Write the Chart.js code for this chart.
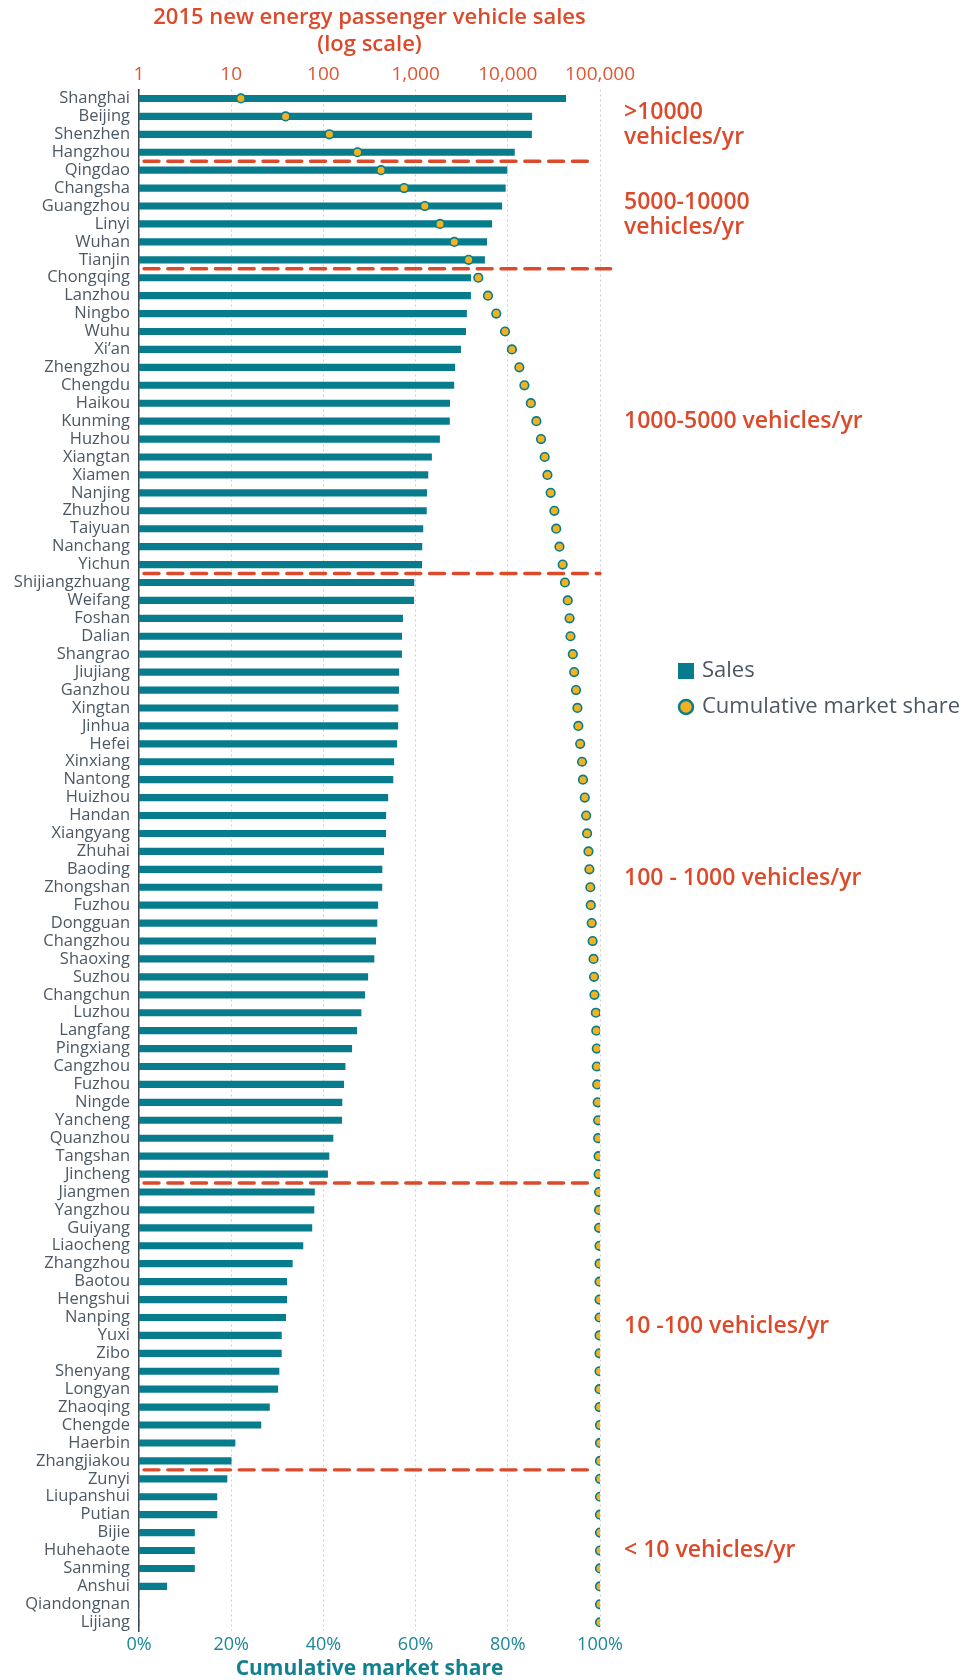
<!DOCTYPE html>
<html>
<head>
<meta charset="utf-8">
<title>2015 new energy passenger vehicle sales by city</title>
<script src="https://cdn.jsdelivr.net/npm/chart.js@4/dist/chart.umd.min.js"></script>
<style>
  html, body { margin: 0; padding: 0; background: #fff; }
  #wrap { position: relative; width: 970px; height: 1680px; }
</style>
</head>
<body>
<div id="wrap"><canvas id="salesChart"></canvas></div>
<script>
const cities = [
  'Shanghai', 'Beijing', 'Shenzhen', 'Hangzhou', 'Qingdao', 'Changsha', 'Guangzhou', 'Linyi', 'Wuhan', 'Tianjin',
  'Chongqing', 'Lanzhou', 'Ningbo', 'Wuhu', 'Xi\u2019an', 'Zhengzhou', 'Chengdu', 'Haikou', 'Kunming', 'Huzhou',
  'Xiangtan', 'Xiamen', 'Nanjing', 'Zhuzhou', 'Taiyuan', 'Nanchang', 'Yichun', 'Shijiangzhuang', 'Weifang', 'Foshan',
  'Dalian', 'Shangrao', 'Jiujiang', 'Ganzhou', 'Xingtan', 'Jinhua', 'Hefei', 'Xinxiang', 'Nantong', 'Huizhou',
  'Handan', 'Xiangyang', 'Zhuhai', 'Baoding', 'Zhongshan', 'Fuzhou', 'Dongguan', 'Changzhou', 'Shaoxing', 'Suzhou',
  'Changchun', 'Luzhou', 'Langfang', 'Pingxiang', 'Cangzhou', 'Fuzhou', 'Ningde', 'Yancheng', 'Quanzhou', 'Tangshan',
  'Jincheng', 'Jiangmen', 'Yangzhou', 'Guiyang', 'Liaocheng', 'Zhangzhou', 'Baotou', 'Hengshui', 'Nanping', 'Yuxi',
  'Zibo', 'Shenyang', 'Longyan', 'Zhaoqing', 'Chengde', 'Haerbin', 'Zhangjiakou', 'Zunyi', 'Liupanshui', 'Putian',
  'Bijie', 'Huhehaote', 'Sanming', 'Anshui', 'Qiandongnan', 'Lijiang'
];

// vehicles sold in 2015
const sales = [
  42500, 18200, 18100, 11800, 9800, 9400, 8600, 6700, 5900, 5600,
  3960, 3950, 3570, 3490, 3080, 2660, 2600, 2340, 2330, 1820,
  1490, 1360, 1320, 1310, 1200, 1170, 1165, 960, 955, 723,
  707, 705, 658, 655, 644, 642, 624, 580, 568, 500,
  475, 474, 451, 432, 431, 389, 381, 369, 354, 303,
  281, 256, 230, 203, 172, 166, 159, 158, 127, 115,
  111, 80, 79, 75, 60, 46, 40, 40, 39, 35,
  35, 33, 32, 26, 21, 11, 10, 9, 7, 7,
  4, 4, 4, 2, 1, 1
];

// cumulative market share, %
const cumulativeShare = [
  22.1, 31.8, 41.3, 47.4, 52.5, 57.5, 62.0, 65.3, 68.4, 71.5,
  73.6, 75.7, 77.5, 79.4, 80.9, 82.5, 83.6, 85.0, 86.2, 87.2,
  88.0, 88.6, 89.3, 90.1, 90.5, 91.2, 91.9, 92.4, 93.0, 93.4,
  93.6, 94.1, 94.4, 94.8, 95.1, 95.3, 95.7, 96.1, 96.3, 96.7,
  97.0, 97.2, 97.5, 97.7, 97.9, 98.0, 98.2, 98.4, 98.6, 98.7,
  98.8, 99.1, 99.2, 99.3, 99.3, 99.4, 99.5, 99.6, 99.6, 99.7,
  99.7, 99.8, 99.8, 99.8, 99.9, 99.9, 99.9, 99.9, 99.9, 99.9,
  99.9, 99.9, 99.9, 99.9, 100, 100, 100, 100, 100, 100,
  100, 100, 100, 100, 100, 100
];

const salesTicks = [1, 10, 100, 1000, 10000, 100000];
const shareTicks = [0, 20, 40, 60, 80, 100];

// sales bands: last city in each band and its label
const groupLastCity = ['Hangzhou', 'Tianjin', 'Yichun', 'Jincheng', 'Zhangjiakou', 'Lijiang'];
const groupLabels = [
  ['>10000', 'vehicles/yr'],
  ['5000-10000', 'vehicles/yr'],
  ['1000-5000 vehicles/yr'],
  ['100 - 1000 vehicles/yr'],
  ['10 -100 vehicles/yr'],
  ['< 10 vehicles/yr']
];

const TEAL = '#067c8c';
const GOLD = '#f2b11f';
const RED = '#db4a2b';
const TEXT = '#4c5863';
const FONT = '"Open Sans", Lato, sans-serif';

// dashed band separators, band labels and the legend
const bandsPlugin = {
  id: 'bands',
  afterDatasetsDraw(chart) {
    const {ctx, chartArea, scales} = chart;
    const y = scales.y;
    const share = scales.xShare;
    const lastIdx = groupLastCity.map(c => cities.indexOf(c));
    const lineEnds = [98.4, 102.3, 100, 98.4, 98.4];

    ctx.save();
    ctx.strokeStyle = RED;
    ctx.lineWidth = 3.4;
    ctx.lineCap = 'round';
    ctx.setLineDash([15, 8.8]);
    lastIdx.slice(0, -1).forEach((idx, i) => {
      const yy = (y.getPixelForValue(idx) + y.getPixelForValue(idx + 1)) / 2;
      ctx.beginPath();
      ctx.moveTo(chartArea.left + 5, yy);
      ctx.lineTo(share.getPixelForValue(lineEnds[i]), yy);
      ctx.stroke();
    });
    ctx.restore();

    ctx.save();
    ctx.fillStyle = RED;
    ctx.font = '600 23px ' + FONT;
    ctx.textAlign = 'left';
    ctx.textBaseline = 'middle';
    let first = 0;
    lastIdx.forEach((idx, i) => {
      const mid = (y.getPixelForValue(first) + y.getPixelForValue(idx)) / 2;
      const lines = groupLabels[i];
      const lh = 25;
      lines.forEach((t, k) => {
        ctx.fillText(t, chartArea.right + 24, mid - (lines.length - 1) * lh / 2 + k * lh);
      });
      first = idx + 1;
    });
    ctx.restore();

    // legend
    ctx.save();
    const lx = 686;
    ctx.fillStyle = TEAL;
    ctx.fillRect(lx - 8, 663, 16, 16);
    ctx.beginPath();
    ctx.arc(lx, 707, 7, 0, Math.PI * 2);
    ctx.fillStyle = GOLD;
    ctx.fill();
    ctx.lineWidth = 2.5;
    ctx.strokeStyle = TEAL;
    ctx.stroke();
    ctx.fillStyle = TEXT;
    ctx.font = '22px ' + FONT;
    ctx.textBaseline = 'middle';
    ctx.fillText(chart.data.datasets[0].label, 702, 671);
    ctx.fillText(chart.data.datasets[1].label, 702, 707);
    ctx.restore();
  }
};

const ctx = document.getElementById('salesChart').getContext('2d');
new Chart(ctx, {
  type: 'bar',
  data: {
    labels: cities,
    datasets: [{
      type: 'bar',
      label: 'Sales',
      data: sales,
      indexAxis: 'y',
      xAxisID: 'xSales',
      yAxisID: 'y',
      backgroundColor: TEAL,
      barThickness: 6.5,
      order: 2
    }, {
      type: 'line',
      label: 'Cumulative market share',
      data: cumulativeShare,
      indexAxis: 'y',
      xAxisID: 'xShare',
      yAxisID: 'y',
      showLine: false,
      pointRadius: 4.3,
      pointBackgroundColor: GOLD,
      pointBorderColor: TEAL,
      pointBorderWidth: 1.6,
      order: 1
    }]
  },
  options: {
    indexAxis: 'y',
    responsive: true,
    maintainAspectRatio: false,
    animation: false,
    layout: { padding: { left: 0, right: 370, top: 0, bottom: 0 } },
    plugins: {
      legend: { display: false },
      tooltip: { enabled: false }
    },
    scales: {
      y: {
        type: 'category',
        grid: { display: false, drawTicks: false },
        border: { display: true, color: '#3a4650', width: 1.5 },
        ticks: { autoSkip: false, color: TEXT, padding: 9, font: { family: FONT, size: 16.5 } },
        afterFit(scale) { scale.width = 139; }
      },
      xSales: {
        type: 'logarithmic',
        position: 'top',
        min: 1,
        max: 100000,
        grid: { display: false, drawTicks: false },
        border: { display: false },
        afterBuildTicks(scale) { scale.ticks = salesTicks.map(v => ({ value: v })); },
        ticks: {
          color: '#e0542f',
          padding: 4,
          maxRotation: 0,
          font: { family: FONT, size: 19 },
          callback: v => v.toLocaleString('en-US')
        },
        title: {
          display: true,
          text: ['2015 new energy passenger vehicle sales', '(log scale)'],
          color: RED,
          padding: { top: 5, bottom: 0 },
          font: { family: FONT, size: 22, weight: '600', lineHeight: 1.2 }
        },
        afterFit(scale) { scale.height = 89.5; }
      },
      xShare: {
        type: 'linear',
        position: 'bottom',
        min: 0,
        max: 100,
        grid: { color: '#cfcfcf', lineWidth: 1, drawTicks: false },
        border: { display: false, dash: [2, 3] },
        afterBuildTicks(scale) { scale.ticks = shareTicks.map(v => ({ value: v })); },
        ticks: {
          color: '#1b8797',
          padding: 3,
          maxRotation: 0,
          font: { family: FONT, size: 18 },
          callback: v => v + '%'
        },
        title: {
          display: true,
          text: 'Cumulative market share',
          color: '#13808f',
          padding: { top: 0, bottom: 0 },
          font: { family: FONT, size: 21, weight: 'bold', lineHeight: 1.05 }
        },
        afterFit(scale) { scale.height = 48.8; }
      }
    }
  },
  plugins: [bandsPlugin]
});
</script>
</body>
</html>
